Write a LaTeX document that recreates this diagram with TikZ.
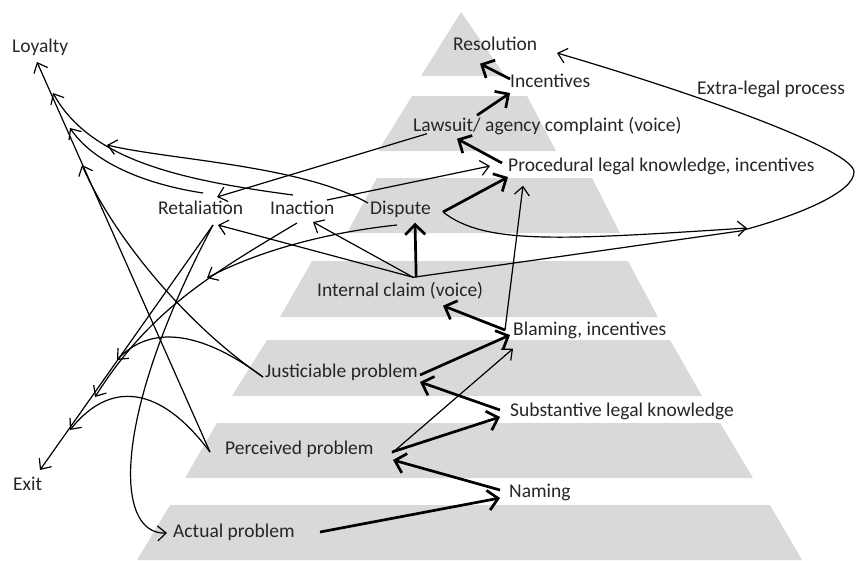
\documentclass[tikz,border=0pt]{standalone}
\usepackage{fontspec}
\setmainfont{Carlito}
\usetikzlibrary{arrows.meta,calc}

\begin{document}
\begin{tikzpicture}[
  x=1pt, y=-1pt,
  lbl/.style={anchor=west, inner sep=0pt, text height=13pt, text depth=4pt,
    font=\fontsize{19.5}{22}\selectfont, text=black!85},
  band/.style={fill=black!15},
  arrow/.style={-{Straight Barb[length=10pt,width=20pt]}, line width=2.7pt},
  link/.style={-{Straight Barb[length=8.5pt,width=15pt]}, line width=1.2pt}
]
\useasboundingbox (0,0) rectangle (856,560);

% pyramid
\fill[band] (461,12) -- (421,76) -- (505,76) -- cycle;
\fill[band] (412,96) -- (527,96) -- (556,151) -- (378,151) -- cycle;
\fill[band] (377,178) -- (592,178) -- (620,233) -- (347,233) -- cycle;
\fill[band] (312,261) -- (628,261) -- (658,317) -- (280,317) -- cycle;
\fill[band] (267,340) -- (670,340) -- (702,396) -- (232,396) -- cycle;
\fill[band] (217,423) -- (720,423) -- (753,478) -- (185,478) -- cycle;
\fill[band] (170,505) -- (770,505) -- (802,560) -- (137,560) -- cycle;

% labels
\node[lbl] (loyalty) at (12,48) {Loyalty};
\node[lbl] (exit) at (13,486) {Exit};
\node[lbl] (resolution) at (453,46) {Resolution};
\node[lbl] (incentives) at (510,83) {Incentives};
\node[lbl] (lawsuit) at (413,127) {Lawsuit/ agency complaint (voice)};
\node[lbl] (procedural) at (508,167) {Procedural legal knowledge, incentives};
\node[lbl] (extralegal) at (697,90) {Extra-legal process};
\node[lbl] (retaliation) at (158,210) {Retaliation};
\node[lbl] (inaction) at (270,210) {Inaction};
\node[lbl] (dispute) at (370,210) {Dispute};
\node[lbl] (internal) at (317,292) {Internal claim (voice)};
\node[lbl] (blaming) at (513,331) {Blaming, incentives};
\node[lbl] (justiciable) at (265,373) {Justiciable problem};
\node[lbl] (substantive) at (510,412) {Substantive legal knowledge};
\node[lbl] (perceived) at (225,450) {Perceived problem};
\node[lbl] (naming) at (509,493) {Naming};
\node[lbl] (actual) at (173,533) {Actual problem};

% where the side arrows stop
\coordinate (loy1) at (37,62);
\coordinate (loy2) at (53,93);
\coordinate (loy3) at (70,128);
\coordinate (loy4) at (82,165);
\coordinate (loy5) at (107,145);
\coordinate (ex1) at (207,278);
\coordinate (ex2) at (117,360);
\coordinate (ex3) at (95,397);
\coordinate (ex4) at (70,430);
\coordinate (ex5) at (40,470);
\coordinate (extra) at (747,228);
\coordinate (hub) at ($(internal.north)+(13,-6)$);

% up the pyramid
\draw[arrow] ($(actual.west)+(147,-1)$) -- ($(naming.west)+(-9,5)$);
\draw[arrow] ($(naming.west)+(-9,-3)$) -- ($(perceived.west)+(168,10)$);
\draw[arrow] ($(perceived.west)+(167,2)$) -- ($(substantive.west)+(-10,5)$);
\draw[arrow] ($(substantive.west)+(-10,-2)$) -- ($(justiciable.west)+(155,9)$);
\draw[arrow] ($(justiciable.west)+(155,2)$) -- ($(blaming.west)+(-3,4)$);
\draw[arrow] ($(blaming.west)+(-8,-1)$) -- ($(internal.south west)+(126,5)$);
\draw[arrow] ($(hub)+(3,0)$) -- ($(dispute.south west)+(45,4)$);
\draw[arrow] ($(dispute.west)+(73,2)$) -- ($(procedural.west)+(0,10)$);
\draw[arrow] ($(procedural.west)+(-6,-4)$) -- ($(lawsuit.south west)+(44,3)$);
\draw[arrow] ($(lawsuit.north west)+(64,-3)$) -- ($(incentives.west)+(0,10)$);
\draw[arrow] ($(incentives.west)+(0,-4)$) -- ($(resolution.south west)+(27,9)$);

% shortcuts
\draw[link] ($(perceived.west)+(167,3)$) -- ($(blaming.south west)+(0,9)$);
\draw[link] ($(blaming.west)+(-8,-1)$) -- ($(procedural.south west)+(15,10)$);
\draw[link] ($(inaction.west)+(57,-10)$) -- ($(procedural.west)+(-18,-1)$);
\draw[link] ($(lawsuit.south west)+(14,-2)$) -- ($(retaliation.west)+(59,-13)$);
\draw[link] (hub) -- ($(retaliation.west)+(60,15)$);
\draw[link] (hub) -- ($(inaction.west)+(43,12)$);

% extra-legal loop
\draw[link] (hub) -- (740,231) .. controls (800,215) and (854,192) .. (854,172)
  .. controls (854,150) and (700,95) .. ($(resolution.west)+(104,7)$);
\draw[link] ($(dispute.west)+(73,2)$) .. controls (485,245) and (560,240) .. (extra);

% to loyalty
\draw[link] ($(perceived.west)+(-15,2)$) -- (loy1);
\draw[link] ($(inaction.west)+(23,-15)$) .. controls (180,180) and (90,160) .. (loy2);
\draw[link] ($(retaliation.west)+(45,-17)$) .. controls (150,185) and (95,165) .. (loy3);
\draw[link] ($(justiciable.west)+(-2,4)$) .. controls (180,320) and (110,230) .. (loy4);
\draw[link] ($(dispute.west)+(-2,-7)$) .. controls (300,165) and (170,160) .. (loy5);

% to exit
\draw[link] ($(dispute.west)+(27,15)$) .. controls (330,232) and (260,250) .. (ex1);
\draw[link] ($(justiciable.west)+(-2,4)$) .. controls (200,330) and (150,325) .. (ex2);
\draw[link] ($(inaction.west)+(27,13)$) .. controls (210,275) and (150,310) .. (ex3);
\draw[link] ($(perceived.west)+(-15,2)$) .. controls (160,385) and (110,380) .. (ex4);
\draw[link] ($(retaliation.west)+(55,15)$) -- (ex5);

% back to the bottom
\draw[link] ($(retaliation.west)+(55,15)$) .. controls (110,420) and (115,535) .. ($(actual.west)+(-6,0)$);
\end{tikzpicture}
\end{document}
